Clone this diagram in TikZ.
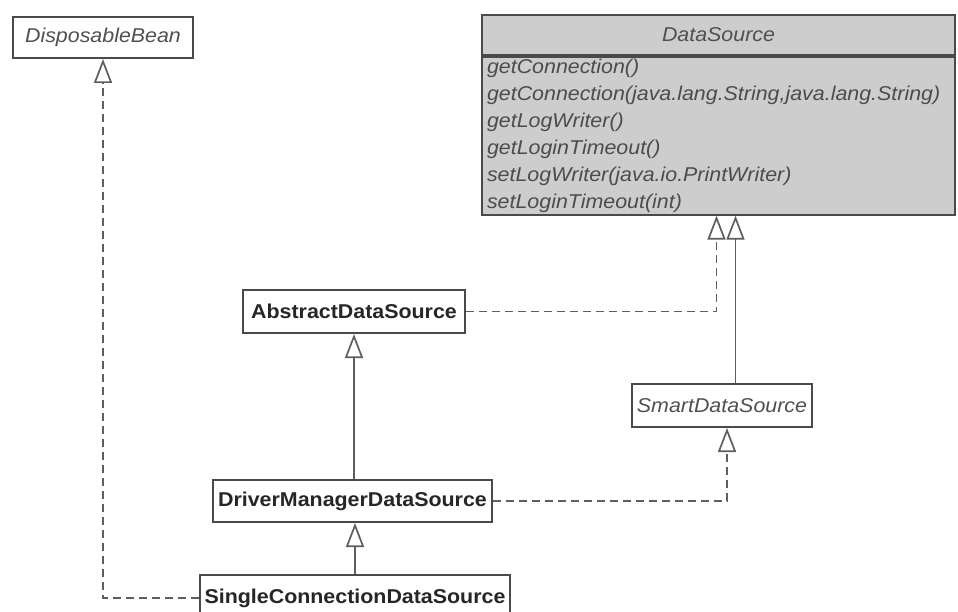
\documentclass[tikz,border=0pt]{standalone}
\usepackage{fontspec}
\setsansfont[FakeStretch=1.07]{Liberation Sans}
\usetikzlibrary{arrows.meta, positioning, calc}
\definecolor{cline}{HTML}{5E5E5E}
\definecolor{cedge}{HTML}{4A4A4A}
\definecolor{cfill}{HTML}{CDCDCD}
\definecolor{ctext}{HTML}{505050}
\tikzset{
  every picture/.style={font=\sffamily, line width=2pt},
  cls/.style={draw=cedge, fill=white, font=\sffamily\bfseries\fontsize{20}{24}\selectfont, text=black!85, inner sep=4pt},
  iface/.style={draw=cedge, fill=white, font=\sffamily\itshape\fontsize{20}{24}\selectfont, text=ctext, inner sep=4pt},
  ops/.style={draw=cedge, fill=cfill, font=\sffamily\itshape\fontsize{20}{27}\selectfont, text=black!70, align=left, inner xsep=4pt, inner ysep=2pt},
  inherit/.style={-{Triangle[open, length=24pt, width=18pt]}, draw=cline, line width=1.7pt},
  realize/.style={inherit, dash pattern=on 8pt off 5pt},
}
\begin{document}
\begin{tikzpicture}[x=1pt, y=-1pt]
  \clip (0,0) rectangle (958,612);
  \fill[white] (0,0) rectangle (958,612);
  % ---------- interfaces ----------
  \node[iface, minimum width=180, minimum height=41] (bean) at (103,37.5) {DisposableBean};
  \node[iface, fill=cfill, minimum width=473, minimum height=40] (dsrc) at (718.5,35) {DataSource};
  \node[ops, below=0pt of dsrc, minimum width=473, minimum height=152, text width=463] (dops) {getConnection()\\getConnection(java.lang.String,java.lang.String)\\getLogWriter()\\getLoginTimeout()\\setLogWriter(java.io.PrintWriter)\\setLoginTimeout(int)};
  \node[iface, minimum width=180, minimum height=43] (smart) at (722,405.5) {SmartDataSource};
  % ---------- classes ----------
  \node[cls, minimum width=222, minimum height=43] (abs) at (354,311.5) {AbstractDataSource};
  \node[cls, minimum width=279, minimum height=42] (dmds) at (352.5,501) {DriverManagerDataSource};
  \node[cls, minimum width=310, minimum height=46] (scds) at (355,598) {SingleConnectionDataSource};
  % ---------- relations ----------
  \coordinate (tipA) at ($(dops.south)+(-2,0)$);
  \coordinate (tipB) at ($(dops.south)+(17,0)$);
  \coordinate (tipC) at ($(smart.south)+(5,0)$);
  \draw[realize] (abs.east) -| (tipA);
  \draw[inherit] (smart.north -| tipB) -- (tipB);
  \draw[realize] (dmds.east) -| (tipC);
  \draw[inherit] (dmds.north -| abs.south) -- (abs.south);
  \draw[inherit] (scds.north) -- (scds.north |- dmds.south);
  \draw[realize] (scds.west) -| (bean.south);
\end{tikzpicture}
\end{document}
